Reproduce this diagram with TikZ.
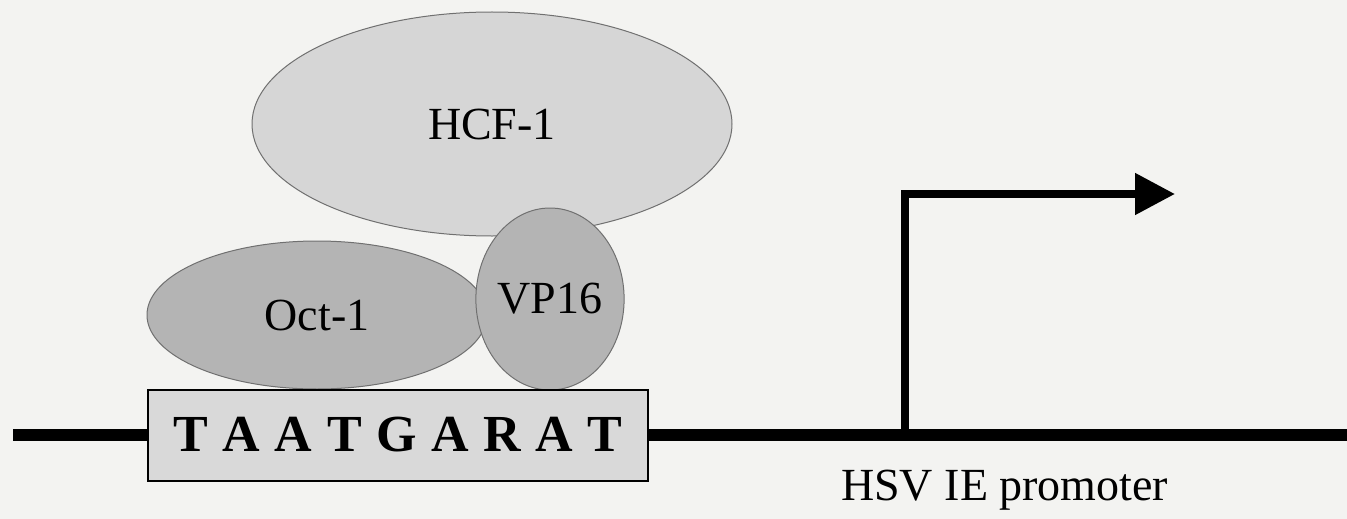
\documentclass[tikz,border=0pt]{standalone}
\usepackage{fontspec}
\setmainfont{Liberation Serif}
\usetikzlibrary{shapes.geometric,arrows.meta}
\definecolor{bg}{HTML}{F3F3F1}
\definecolor{hcf}{HTML}{D6D6D6}
\definecolor{prot}{HTML}{B4B4B4}
\definecolor{boxfill}{HTML}{D9D9D9}
\definecolor{edge}{HTML}{707070}
\newcommand{\lsp}{\hspace{14.6pt}}
\tikzset{
  protein/.style={ellipse, draw=edge, line width=1pt, inner sep=0pt,
    font=\fontsize{46pt}{50pt}\selectfont},
  dna/.style={line width=12.5pt, black},
  sitebox/.style={rectangle, draw=black, line width=2pt, fill=boxfill, inner sep=0pt,
    minimum width=500pt, minimum height=91pt, font=\fontsize{52pt}{56pt}\selectfont\bfseries},
  label/.style={font=\fontsize{46pt}{50pt}\selectfont, inner sep=0pt},
  tssarrow/.style={line width=8pt, black, miter limit=10,
    -{Triangle[length=40pt,width=40pt]}}
}
\begin{document}
\begin{tikzpicture}[x=1pt,y=-1pt]
\fill[bg] (0,0) rectangle (1347,519);
\useasboundingbox (0,0) rectangle (1347,519);
% DNA
\coordinate (dnaL) at (13,435);
\coordinate (dnaR) at (1347,435);
\draw[dna] (dnaL) -- (dnaR);
% proteins
\node[protein, fill=hcf, minimum width=480pt, minimum height=224pt] (hcf) at (492,124) {HCF-1};
\node[protein, fill=prot, minimum width=340pt, minimum height=148pt] (oct) at (317,315) {Oct-1};
\node[protein, fill=prot, minimum width=134pt, minimum height=182pt] (vp) at (550,299) {VP16};
% binding site
\node[sitebox] (site) at (398,435) {T\lsp A\lsp A\lsp T\lsp G\lsp A\lsp R\lsp A\lsp T};
% transcription start arrow
\coordinate (tss) at (905,435);
\coordinate (tip) at (1175,194);
\draw[tssarrow] (tss) |- (tip);
% promoter label
\node[label, anchor=base west] (prom) at (841,500) {HSV IE promoter};
\end{tikzpicture}
\end{document}
